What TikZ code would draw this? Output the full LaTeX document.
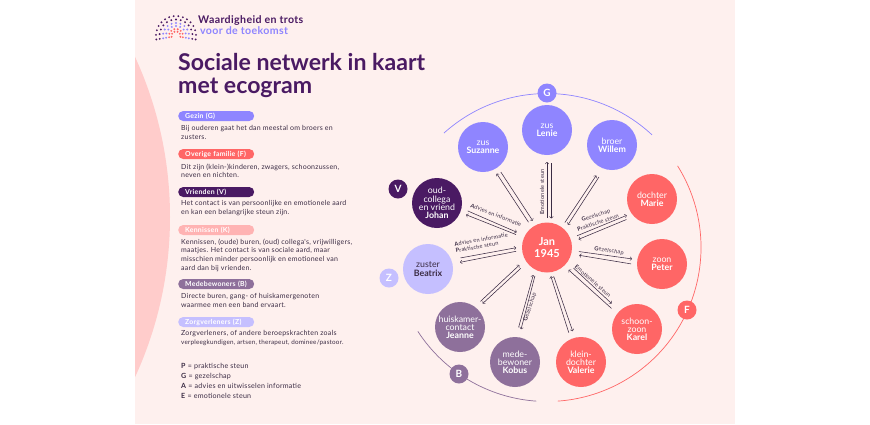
\documentclass[tikz,border=0pt]{standalone}
\usepackage{fontspec}
\setmainfont{Lato}
\newfontfamily\leesfont[LetterSpace=3.5]{Lato}
\usetikzlibrary{shapes,arrows}
\definecolor{panelbg}{HTML}{FEF0EE}
\definecolor{blobpink}{HTML}{FFCCCB}
\definecolor{gezinc}{HTML}{8F85FF}
\definecolor{familiec}{HTML}{FF6666}
\definecolor{vriendc}{HTML}{4A1A63}
\definecolor{kennisc}{HTML}{FFB3B3}
\definecolor{bewonerc}{HTML}{8E709B}
\definecolor{zorgc}{HTML}{C5BFFF}
\definecolor{inktc}{HTML}{3B2C44}
\tikzstyle{link} = [->,>=to,line width=0.55pt,color=inktc]
\tikzstyle{persoon} = [circle,minimum size=50pt,inner sep=0pt,outer sep=0pt,align=center,text=white,font=\fontsize{8.8}{8.2}\selectfont]
\tikzstyle{badge} = [circle,minimum size=19pt,inner sep=0pt,text=white,font=\fontsize{10}{10}\selectfont\bfseries]
\tikzstyle{pill} = [anchor=west,rounded corners=5pt,minimum height=10pt,text width=62pt,inner xsep=7pt,inner ysep=0pt,text=white,font=\leesfont\fontsize{6.9}{7}\selectfont\bfseries]
\tikzstyle{uitleg} = [anchor=north west,align=left,inner sep=0pt,text=inktc,font=\leesfont\fontsize{7}{8.7}\selectfont]
\tikzstyle{steun} = [inner sep=0pt,text=inktc,font=\leesfont\fontsize{5.6}{6}\selectfont]
\tikzstyle{band} = [line width=0.7pt]
\begin{document}
\begin{tikzpicture}[x=1pt,y=-1pt]
    \useasboundingbox (0,0) rectangle (870,424);
    \fill[white] (0,0) rectangle (870,424);
    \fill[panelbg] (135,0) rectangle (735,424);
    \begin{scope}
        \clip (135,0) rectangle (735,424);
        \fill[blobpink] (-213,217) circle (383pt);
    \end{scope}
    % logo
    \foreach \r/\n/\col in {20/16/vriendc,16.5/13/vriendc,13/11/gezinc,10/9/gezinc,7/8/familiec,4.5/6/familiec}{
        \pgfmathsetmacro{\stap}{200/(\n-1)}
        \foreach \i in {1,...,\n}{
            \pgfmathsetmacro{\hoek}{-10+(\i-1)*\stap}
            \fill[\col] ([shift={(\hoek:\r pt)}]176,36) circle (1.05pt);
        }
    }
    \node[anchor=west,inner sep=0pt,text=vriendc,font=\leesfont\fontsize{10.6}{11}\selectfont\bfseries] (logoa) at (198,20.5) {Waardigheid en trots};
    \node[anchor=west,inner sep=0pt,text=gezinc,font=\leesfont\fontsize{10.6}{11}\selectfont\bfseries] (logob) at (200,30.5) {voor de toekomst};
    % titel
    \node[anchor=north west,align=left,inner sep=0pt,text=vriendc,font=\fontsize{23.1}{22.5}\selectfont\bfseries] (titel) at (178,53.5) {Sociale netwerk in kaart\\met ecogram};
    % legenda
    \node[pill,fill=gezinc] (pilg) at (178,116) {Gezin (G)};
    \node[uitleg] (tekstg) at (181,125.5) {Bij ouderen gaat het dan meestal om broers en\\zusters.};
    \node[pill,fill=familiec] (pilf) at (178,154) {Overige familie (F)};
    \node[uitleg] (tekstf) at (181,163.5) {Dit zijn (klein-)kinderen, zwagers, schoonzussen,\\neven en nichten.};
    \node[pill,fill=vriendc] (pilv) at (178,192) {Vrienden (V)};
    \node[uitleg] (tekstv) at (181,200.5) {Het contact is van persoonlijke en emotionele aard\\en kan een belangrijke steun zijn.};
    \node[pill,fill=kennisc] (pilk) at (178,230) {Kennissen (K)};
    \node[uitleg] (tekstk) at (181,238.5) {Kennissen, (oude) buren, (oud) collega's, vrijwilligers,\\maatjes. Het contact is van sociale aard, maar\\misschien minder persoonlijk en emotioneel van\\aard dan bij vrienden.};
    \node[pill,fill=bewonerc] (pilb) at (178,284) {Medebewoners (B)};
    \node[uitleg] (tekstb) at (181,293.5) {Directe buren, gang- of huiskamergenoten\\waarmee men een band ervaart.};
    \node[pill,fill=zorgc] (pilz) at (178,322) {Zorgverleners (Z)};
    \node[uitleg] (tekstz) at (181,330.5) {Zorgverleners, of andere beroepskrachten zoals\\{\fontsize{6.3}{8.7}\selectfont verpleegkundigen, artsen, therapeut, dominee/pastoor.}};
    \node[uitleg,font=\leesfont\fontsize{7.1}{10}\selectfont] (afk) at (181,363.5) {\textbf{P} = praktische steun\\\textbf{G} = gezelschap\\\textbf{A} = advies en uitwisselen informatie\\\textbf{E} = emotionele steun};
    % personen
    \node[persoon,fill=familiec,font=\fontsize{11}{12}\selectfont\bfseries] (jan) at (547,247.5) {Jan\\1945};
    \node[persoon,fill=gezinc] (suzanne) at (483,147) {zus\\\textbf{Suzanne}};
    \node[persoon,fill=gezinc] (lenie) at (547,130) {zus\\\textbf{Lenie}};
    \node[persoon,fill=gezinc] (willem) at (612,145) {broer\\\textbf{Willem}};
    \node[persoon,fill=familiec] (marie) at (652,199) {dochter\\\textbf{Marie}};
    \node[persoon,fill=familiec] (peter) at (662,264) {zoon\\\textbf{Peter}};
    \node[persoon,fill=familiec] (karel) at (637,329) {schoon-\\zoon\\\textbf{Karel}};
    \node[persoon,fill=familiec] (valerie) at (581,362) {klein-\\dochter\\\textbf{Valerie}};
    \node[persoon,fill=bewonerc] (kobus) at (515,362) {mede-\\bewoner\\\textbf{Kobus}};
    \node[persoon,fill=bewonerc] (jeanne) at (460,327) {huiskamer-\\contact\\\textbf{Jeanne}};
    \node[persoon,fill=zorgc,text=inktc] (beatrix) at (428,269) {zuster\\\textbf{Beatrix}};
    \node[persoon,fill=vriendc] (johan) at (437,203) {oud-\\collega\\en vriend\\\textbf{Johan}};
    % banden
    \draw[band,gezinc] ([shift={(132:154pt)}]jan.center) arc[start angle=132,end angle=47,radius=154pt];
    \draw[band,familiec] ([shift={(32:154pt)}]jan.center) arc[start angle=32,end angle=-86,radius=154pt];
    \draw[band,bewonerc] ([shift={(213:154pt)}]jan.center) arc[start angle=213,end angle=266,radius=154pt];
    \node[badge,fill=gezinc] (g) at (547,93) {G};
    \node[badge,fill=familiec] (f) at (687,310) {F};
    \node[badge,fill=bewonerc] (b) at (459,374) {B};
    \node[badge,fill=zorgc] (z) at (389,278) {Z};
    \node[badge,fill=vriendc] (v) at (398,189) {V};
    % verbindingen
    \draw[link,shorten <=5.8pt,shorten >=5.4pt] (suzanne.-54) -- (jan.117);
    \draw[link,shorten <=6.4pt,shorten >=5pt] (jan.127) -- (suzanne.-64);
    \draw[link,shorten <=5pt,shorten >=7pt] (jan.90) -- (lenie.-90);
    \draw[link,shorten <=8.5pt,shorten >=4.4pt] (lenie.-80) -- (jan.80);
    \draw[link,shorten <=5.8pt,shorten >=9.4pt] (jan.54) -- (willem.-115.8);
    \draw[link,shorten <=9.8pt,shorten >=6pt] (willem.-108.4) -- (jan.45);
    \draw[link,shorten <=7.3pt,shorten >=5.2pt] (jan.21.8) -- (marie.-145.8);
    \draw[link,shorten <=8.2pt,shorten >=7.8pt] (marie.-136) -- (jan.12.3);
    \draw[link,shorten <=7.2pt,shorten >=5.4pt] (jan.-7) -- (peter.170.5);
    \draw[link,shorten <=6pt,shorten >=8.2pt] (peter.-178) -- (jan.-15.7);
    \draw[link,shorten <=8.6pt,shorten >=11pt] (jan.-36.5) -- (karel.134);
    \draw[link,shorten <=7.8pt,shorten >=6.1pt] (karel.142.4) -- (jan.-47.6);
    \draw[link,shorten <=6.8pt,shorten >=4.2pt] (valerie.114) -- (jan.-84);
    \draw[link,shorten <=4.6pt,shorten >=7pt] (jan.-78.3) -- (valerie.104.5);
    \draw[link,shorten <=10pt,shorten >=5.9pt] (kobus.88) -- (jan.-119);
    \draw[link,shorten <=5.9pt,shorten >=8.4pt] (jan.-115) -- (kobus.81.4);
    \draw[link,shorten <=8pt,shorten >=8pt] (jeanne.54.9) -- (jan.-151);
    \draw[link,shorten <=8.6pt,shorten >=7.6pt] (jan.-143.5) -- (jeanne.47.5);
    \draw[link,shorten <=9.5pt,shorten >=6pt] (beatrix.22) -- (jan.178);
    \draw[link,shorten <=6.1pt,shorten >=7.8pt] (jan.-174.5) -- (beatrix.12.3);
    \draw[link,shorten <=6.8pt,shorten >=9pt] (johan.-12.7) -- (jan.152);
    \draw[link,shorten <=8.6pt,shorten >=6.4pt] (jan.157.2) -- (johan.-22.5);
    % steun
    \node[steun,rotate=90] (lblenie) at (542,192) {\textbf{E}motionele steun};
    \node[steun,rotate=-21] (lbjohan) at (496,215) {\textbf{A}dvies en informatie};
    \node[steun,rotate=10] (lbbeatrixa) at (481,239.5) {\textbf{A}dvies en informatie};
    \node[steun,rotate=10] (lbbeatrixb) at (477,247) {\textbf{P}raktische steun};
    \node[steun,rotate=19] (lbmariea) at (596,215.5) {\textbf{G}ezelschap};
    \node[steun,rotate=19] (lbmarieb) at (598,222.5) {\textbf{P}raktische steun};
    \node[steun,rotate=-9] (lbpeter) at (609,251) {\textbf{G}ezelschap};
    \node[steun,rotate=-41] (lbkarel) at (593,281) {\textbf{E}motionele steun};
    \node[steun,rotate=72] (lbkobus) at (530,307) {\textbf{G}ezelschap};
\end{tikzpicture}
\end{document}
